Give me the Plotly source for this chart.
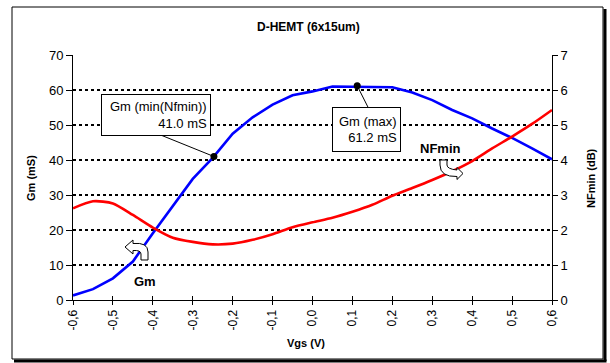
import plotly.graph_objects as go

# ---- data ----
vgs = [-0.6, -0.55, -0.5, -0.45, -0.4, -0.35, -0.3, -0.25, -0.2, -0.15, -0.1, -0.05,
       0.0, 0.05, 0.1, 0.15, 0.2, 0.25, 0.3, 0.35, 0.4, 0.45, 0.5, 0.55, 0.6]
gm_ms = [1.3, 3.1, 6.2, 11.0, 19.1, 27.0, 34.6, 40.6, 47.5, 52.2, 55.8, 58.5,
         59.6, 61.0, 61.0, 61.0, 60.8, 59.3, 57.1, 54.3, 51.9, 49.0, 46.3, 43.3, 40.2]
nfmin_db = [2.62, 2.82, 2.76, 2.43, 2.07, 1.78, 1.66, 1.59, 1.61, 1.72, 1.88, 2.08,
            2.22, 2.35, 2.52, 2.72, 2.98, 3.20, 3.43, 3.68, 3.97, 4.33, 4.67, 5.03, 5.43]
marker_x = [-0.247, 0.112]
marker_y = [41.0, 61.2]
x_ticks = [-0.6, -0.5, -0.4, -0.3, -0.2, -0.1, 0.0, 0.1, 0.2, 0.3, 0.4, 0.5, 0.6]
x_ticklabels = ["-0,6", "-0,5", "-0,4", "-0,3", "-0,2", "-0,1", "0,0",
                "0,1", "0,2", "0,3", "0,4", "0,5", "0,6"]

FONT = "Liberation Sans, Arial, sans-serif"

# plot-area geometry helpers (for decorative layout items only)
L, R, T, B = 73, 552, 55, 300
W, H = 610, 363
def px(x):
    return (x - L) / (R - L)
def py(y):
    return (B - y) / (B - T)

fig = go.Figure()
fig.add_trace(go.Scatter(x=vgs, y=gm_ms, mode="lines", line=dict(color="#0000FF", width=2.6),
                         showlegend=False, hoverinfo="skip"))
fig.add_trace(go.Scatter(x=vgs, y=nfmin_db, mode="lines", yaxis="y2",
                         line=dict(color="#FF0000", width=2.6, shape="spline", smoothing=0.7),
                         showlegend=False, hoverinfo="skip"))
fig.add_trace(go.Scatter(x=marker_x, y=marker_y, mode="markers", xaxis="x2",
                         marker=dict(color="black", size=7), showlegend=False, hoverinfo="skip"))

grid = dict(showgrid=True, gridcolor="black", gridwidth=2, griddash="3px,3px")

fig.update_layout(
    width=W, height=H,
    margin=dict(l=L, r=W - R, t=T, b=H - B),
    paper_bgcolor="white", plot_bgcolor="white",
    font=dict(family=FONT, color="black"),
    xaxis=dict(range=[-0.6, 0.6], tickvals=x_ticks, ticktext=x_ticklabels, tickangle=-90,
               ticks="outside", ticklen=4, tickcolor="black", tickfont=dict(size=12),
               showline=True, linecolor="black", linewidth=1, showgrid=False, zeroline=False),
    xaxis2=dict(range=[-0.6, 0.6], overlaying="x", anchor="y", side="bottom",
                tickvals=x_ticks, ticks="inside", ticklen=4, tickcolor="black",
                showticklabels=False, showgrid=False, zeroline=False, showline=False),
    yaxis=dict(range=[0, 70], dtick=10, ticks="outside", ticklen=6, tickcolor="black",
               tickfont=dict(size=13), showline=True, linecolor="black", linewidth=1,
               zeroline=False, **grid),
    yaxis2=dict(range=[0, 7], dtick=1, overlaying="y", side="right", ticks="outside",
                ticklen=5, tickcolor="black", tickfont=dict(size=13), showline=True,
                linecolor="black", linewidth=1, showgrid=False, zeroline=False),
)

annos = [
    dict(text="<b>D-HEMT (6x15um)</b>", x=px(308.5), y=py(27), font=dict(size=12)),
    dict(text="<b>Gm (mS)</b>", x=px(31), y=py(178), textangle=-90, font=dict(size=11)),
    dict(text="<b>NFmin (dB)</b>", x=px(591), y=py(178), textangle=-90, font=dict(size=11)),
    dict(text="<b>Vgs (V)</b>", x=px(306), y=py(343), font=dict(size=11)),
    dict(text="<b>NFmin</b>", x=px(440), y=py(148), font=dict(size=13)),
    dict(text="<b>Gm</b>", x=px(145), y=py(281), font=dict(size=13)),
    dict(text="Gm (min(Nfmin))<br>41.0 mS", x=px(156), y=py(115), align="right",
         font=dict(size=13), bgcolor="white", bordercolor="black", borderwidth=1,
         borderpad=3, width=102, height=34),
    dict(text="Gm (max)<br>61.2 mS", x=px(366.5), y=py(129.5), align="right",
         font=dict(size=13), bgcolor="white", bordercolor="black", borderwidth=1,
         borderpad=3, width=61, height=37),
]
for a in annos:
    a.update(xref="paper", yref="paper", showarrow=False, xanchor="center", yanchor="middle")
    fig.add_annotation(**a)

# leader lines from boxes to the marked points
fig.add_shape(type="line", xref="x", yref="y", x0=-0.3795, y0=47.1, x1=marker_x[0], y1=marker_y[0],
              line=dict(color="black", width=1))
fig.add_shape(type="line", xref="x", yref="y", x0=0.139, y0=55.1, x1=marker_x[1], y1=marker_y[1],
              line=dict(color="black", width=1))

def path(cmds):
    out = []
    for c in cmds:
        if isinstance(c, str):
            out.append(c)
        else:
            out.append(f"{px(c[0]):.5f},{py(c[1]):.5f}")
    return " ".join(out)

gm_arrow = path(["M", (125, 247), "L", (133, 240), "L", (133, 243.5), "Q", (148, 242), (148, 252),
                 "L", (148, 260), "L", (141, 260), "L", (141, 254), "Q", (141, 250), (133, 250.5),
                 "L", (133, 254), "Z"])
nf_arrow = path(["M", (440, 160), "L", (447, 160), "L", (447, 165), "Q", (447, 169), (457, 170),
                 "L", (457, 167.5), "L", (463, 173.5), "L", (457, 179.5), "L", (457, 176.5),
                 "Q", (440, 177), (440, 165), "Z"])
for p in (gm_arrow, nf_arrow):
    fig.add_shape(type="path", xref="paper", yref="paper", path=p, fillcolor="white",
                  line=dict(color="black", width=1), layer="above")

# outer frame with shadow
fig.add_shape(type="rect", xref="paper", yref="paper", x0=px(12), x1=px(603), y0=py(359), y1=py(7),
              line=dict(color="black", width=1))
fig.add_shape(type="line", xref="paper", yref="paper", x0=px(605), x1=px(605), y0=py(361), y1=py(9),
              line=dict(color="black", width=3))
fig.add_shape(type="line", xref="paper", yref="paper", x0=px(14), x1=px(606.5), y0=py(361), y1=py(361),
              line=dict(color="black", width=3))

fig.write_html("out.html")
